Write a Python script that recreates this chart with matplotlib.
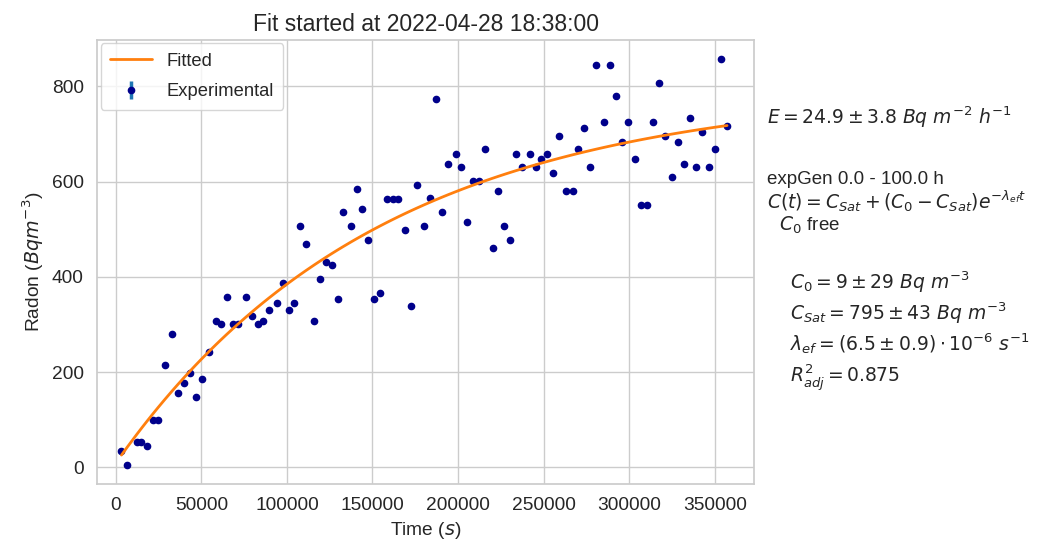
import numpy as np
import matplotlib
matplotlib.use("Agg")
import matplotlib.pyplot as plt
import seaborn as sns

sns.set_theme(style="whitegrid")
plt.rcParams['font.family'] = ['Liberation Sans', 'DejaVu Sans']

time_s = [3300, 6800, 12100, 15000, 18300, 21800, 24750, 28450, 32900, 36450,
          39950, 43300, 46600, 50100, 54600, 58300, 61400, 64700, 68200, 71500,
          76000, 79300, 82800, 86100, 89500, 94300, 97600, 101000, 104300, 107800,
          111100, 115800, 119300, 122600, 126100, 129600, 132500, 137400, 140700, 144000,
          147500, 151000, 154400, 158300, 161800, 165100, 169000, 172500, 175800, 180100,
          183500, 187000, 190400, 193900, 198600, 202000, 205500, 208600, 212200, 215700,
          220200, 223600, 227100, 230400, 233800, 237300, 241800, 245300, 248700, 252200,
          255700, 259000, 262800, 266900, 270200, 273800, 277300, 280700, 285200, 288700,
          292300, 295600, 299100, 303600, 306800, 310300, 313900, 317200, 320700, 325200,
          328600, 332100, 335600, 338800, 342300, 346800, 350400, 353900, 357200]
radon = [34, 4, 53, 53, 45, 99, 99, 214, 280, 156,
         177, 198, 148, 185, 243, 308, 300, 358, 300, 300,
         358, 317, 300, 308, 330, 346, 387, 330, 346, 507,
         469, 308, 395, 432, 424, 354, 536, 507, 585, 543,
         478, 354, 366, 564, 564, 564, 499, 338, 593, 507,
         566, 774, 536, 638, 659, 631, 515, 602, 602, 668,
         461, 581, 507, 478, 659, 631, 659, 631, 647, 659,
         618, 696, 581, 581, 668, 713, 631, 845, 725, 845,
         779, 684, 725, 647, 552, 552, 725, 808, 696, 610,
         684, 638, 733, 631, 705, 631, 668, 857, 717]
radon_err = [0.0] * len(radon)

# fit parameters (as reported)
C0 = 9.0
C_sat = 795.0
lam_ef = 6.5e-6

t = np.array(time_s, dtype=float)
fitted = C_sat + (C0 - C_sat) * np.exp(-lam_ef * t)

fig = plt.figure(figsize=(10.43, 5.45), dpi=100)
ax = fig.add_axes([0.093, 0.112, 0.630, 0.815])

ax.plot(t, fitted, color='#ff7f0e', lw=2, label='Fitted', zorder=3)
ax.errorbar(t, radon, yerr=radon_err, fmt='o', color='#00008b', ms=4.5,
            ecolor='#1f77b4', elinewidth=2.5, label='Experimental', zorder=2)

ax.set_xlim(-11000, 373000)
ax.set_ylim(-35, 898)
ax.set_xticks([0, 50000, 100000, 150000, 200000, 250000, 300000, 350000])
ax.set_yticks([0, 200, 400, 600, 800])
ax.tick_params(labelsize=13.8, colors='#262626')
ax.set_xlabel('Time ($s$)', fontsize=13.8, color='#262626')
ax.set_ylabel('Radon ($Bq m^{-3}$)', fontsize=13.8, color='#262626')
ax.set_title('Fit started at 2022-04-28 18:38:00', fontsize=16.5, color='#262626')
ax.legend(loc='upper left', fontsize=13.2, frameon=True, borderaxespad=0.2,
          handlelength=2.3, labelspacing=0.75, borderpad=0.5)

fs = 13.5
fig.text(0.735, 0.785, r'$E = 24.9 \pm 3.8\ Bq\ m^{-2}\ h^{-1}$', fontsize=fs, va='center')
fig.text(0.735, 0.670, 'expGen 0.0 - 100.0 h', fontsize=fs, va='center')
fig.text(0.731, 0.630, r' $C(t) = C_{Sat} + (C_0 - C_{Sat})e^{-\lambda_{ef}t}$', fontsize=fs, va='center')
fig.text(0.737, 0.587, r'  $C_0$ free', fontsize=fs, va='center')
fig.text(0.757, 0.482, r'$C_0 = 9 \pm 29\ Bq\ m^{-3}$', fontsize=fs, va='center')
fig.text(0.757, 0.426, r'$C_{Sat} = 795 \pm 43\ Bq\ m^{-3}$', fontsize=fs, va='center')
fig.text(0.757, 0.369, r'$\lambda_{ef} = (6.5 \pm 0.9) \cdot 10^{-6}\ s^{-1}$', fontsize=fs, va='center')
fig.text(0.757, 0.306, r'$R^2_{adj} = 0.875$', fontsize=fs, va='center')

fig.savefig('out.png', dpi=100)
